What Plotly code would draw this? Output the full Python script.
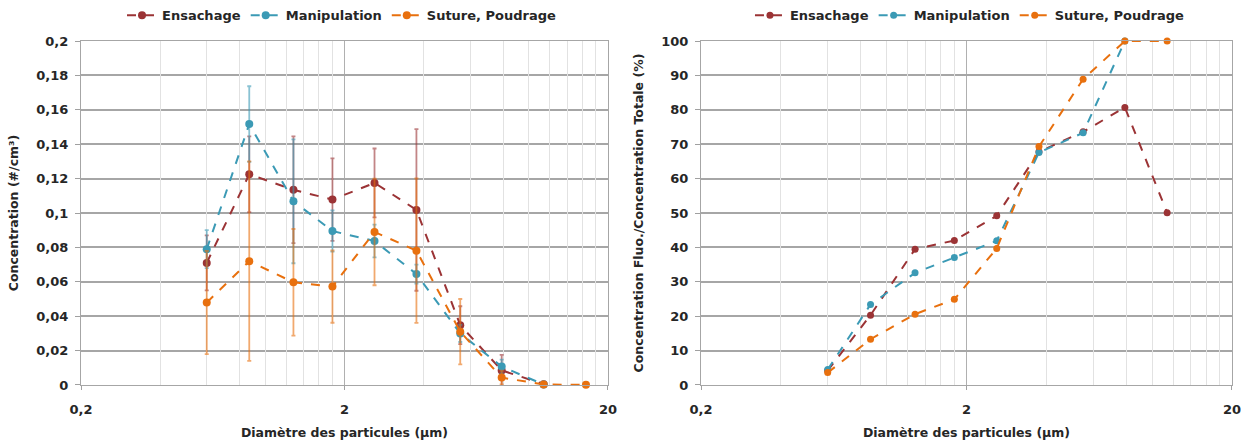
import plotly.graph_objects as go

# ---------------- data ----------------
series_names = ["Ensachage", "Manipulation", "Suture, Poudrage"]
diam = [0.6, 0.87, 1.28, 1.8, 2.6, 3.75, 5.5, 7.9, 11.4, 16.5]

ens_conc = [0.071, 0.1225, 0.1135, 0.1078, 0.1175, 0.1018, 0.0348, 0.0085, 0.0005, None]
ens_err = [0.016, 0.022, 0.031, 0.024, 0.020, 0.047, 0.011, 0.009, 0.001, None]
man_conc = [0.079, 0.1517, 0.1068, 0.0895, 0.0837, 0.0645, 0.0300, 0.0107, 0.0003, None]
man_err = [0.011, 0.022, 0.036, 0.012, 0.0095, 0.0055, 0.005, 0.004, 0.0005, None]
sut_conc = [0.0479, 0.0720, 0.0597, 0.0572, 0.0890, 0.0781, 0.0310, 0.0043, 0.0003, 0.0001]
sut_err = [0.030, 0.058, 0.031, 0.021, 0.031, 0.042, 0.019, 0.004, 0.0005, 0.0002]

ens_pct = [4.2, 20.3, 39.5, 42.0, 49.2, 67.8, 73.6, 80.7, 50.1, None]
man_pct = [4.5, 23.4, 32.6, 37.1, 41.9, 67.6, 73.3, 100.0, None, None]
sut_pct = [3.6, 13.3, 20.6, 24.9, 39.7, 69.3, 88.9, 100.0, 100.0, None]

x_tickvals = [0.2, 2, 20]
x_ticktext = ["0,2", "2", "20"]
x_minor = [0.4, 0.6, 0.8, 1.0, 1.2, 1.4, 1.6, 1.8, 4, 6, 8, 10, 12, 14, 16, 18]
yl_tickvals = [0, 0.02, 0.04, 0.06, 0.08, 0.1, 0.12, 0.14, 0.16, 0.18, 0.2]
yl_ticktext = ["0", "0,02", "0,04", "0,06", "0,08", "0,1", "0,12", "0,14", "0,16", "0,18", "0,2"]
yr_tickvals = [0, 10, 20, 30, 40, 50, 60, 70, 80, 90, 100]
yr_ticktext = [str(v) for v in yr_tickvals]

# ---------------- style ----------------
colors = ["#9B3335", "#3B9AB5", "#E8700E"]
err_colors = ["rgba(155,51,53,0.6)", "rgba(59,154,181,0.6)", "rgba(232,112,14,0.6)"]
FONT = "DejaVu Sans"
TXT = "#262626"
XRANGE = [-0.69897, 1.30103]

fig = go.Figure()

# invisible traces so the minor-grid overlay axes are rendered
for xa, ya in (("x3", "y"), ("x4", "y2")):
    fig.add_trace(go.Scatter(x=[x_minor[0]], y=[0], mode="markers",
                             marker=dict(opacity=0), showlegend=False,
                             hoverinfo="skip", xaxis=xa, yaxis=ya))

left_vals = [ens_conc, man_conc, sut_conc]
left_errs = [ens_err, man_err, sut_err]
for i, name in enumerate(series_names):
    fig.add_trace(go.Scatter(
        x=diam, y=left_vals[i], name=name, mode="lines+markers",
        line=dict(color=colors[i], width=2, dash="dash"),
        marker=dict(color=colors[i], size=8),
        error_y=dict(type="data", array=left_errs[i], visible=True,
                     color=err_colors[i], thickness=1.8, width=2),
        xaxis="x", yaxis="y", legend="legend", cliponaxis=False,
    ))

right_vals = [ens_pct, man_pct, sut_pct]
for i, name in enumerate(series_names):
    fig.add_trace(go.Scatter(
        x=diam, y=right_vals[i], name=name, mode="lines+markers",
        line=dict(color=colors[i], width=2, dash="dash"),
        marker=dict(color=colors[i], size=7),
        xaxis="x2", yaxis="y2", legend="legend2", cliponaxis=False,
    ))

tickfont = dict(family=FONT, size=13, color=TXT, weight="bold")
titlefont = dict(family=FONT, size=12.5, color=TXT, weight="bold")

def xaxis(domain, anchor):
    return dict(
        type="log", domain=domain, anchor=anchor, range=XRANGE,
        tickmode="array", tickvals=x_tickvals, ticktext=x_ticktext,
        tickfont=tickfont, ticks="outside", ticklen=4, tickcolor="#A0A0A0",
        ticklabelstandoff=8,
        showgrid=True, gridcolor="#B0B0B0", gridwidth=1.3,
        showline=True, linecolor="#A6A6A6", linewidth=1.3, mirror=True,
        zeroline=False, automargin=False,
        title=dict(text="Diamètre des particules (µm)", font=titlefont, standoff=14),
    )

def xminor(overlay, anchor):
    return dict(
        type="log", overlaying=overlay, anchor=anchor, range=XRANGE,
        tickmode="array", tickvals=x_minor, showticklabels=False, ticks="",
        showgrid=True, gridcolor="#E2E2E2", gridwidth=1.3,
        showline=False, zeroline=False, side="bottom", automargin=False,
    )

def yaxis(domain, anchor, rng, tv, tt, title):
    return dict(
        domain=domain, anchor=anchor, range=rng,
        tickmode="array", tickvals=tv, ticktext=tt,
        tickfont=tickfont, ticks="outside", ticklen=5, tickcolor="#A0A0A0",
        ticklabelstandoff=4,
        showgrid=True, gridcolor="#A6A6A6", gridwidth=1.5,
        showline=True, linecolor="#A6A6A6", linewidth=1.3, mirror=True,
        zeroline=False, automargin=False,
        title=dict(text=title, font=titlefont, standoff=14),
    )

ydom = [0.125, 0.9068]
fig.update_layout(
    width=1241, height=440,
    margin=dict(l=0, r=0, t=0, b=0),
    paper_bgcolor="white", plot_bgcolor="white",
    font=dict(family=FONT, color=TXT),
    xaxis=xaxis([0.0653, 0.4899], "y"),
    yaxis=yaxis(ydom, "x", [0, 0.2], yl_tickvals, yl_ticktext, "Concentration (#/cm³)"),
    xaxis2=xaxis([0.5649, 0.9927], "y2"),
    yaxis2=yaxis(ydom, "x2", [0, 100], yr_tickvals, yr_ticktext,
                 "Concentration Fluo./Concentration Totale (%)"),
    xaxis3=xminor("x", "y"),
    xaxis4=xminor("x2", "y2"),
    legend=dict(orientation="h", x=0.2756, y=0.965, xanchor="center", yanchor="middle",
                font=dict(family=FONT, size=13, color=TXT, weight="bold"),
                bgcolor="rgba(0,0,0,0)", itemwidth=30),
    legend2=dict(orientation="h", x=0.7816, y=0.965, xanchor="center", yanchor="middle",
                 font=dict(family=FONT, size=13, color=TXT, weight="bold"),
                 bgcolor="rgba(0,0,0,0)", itemwidth=30),
    showlegend=True,
)

fig.write_html("out.html")
